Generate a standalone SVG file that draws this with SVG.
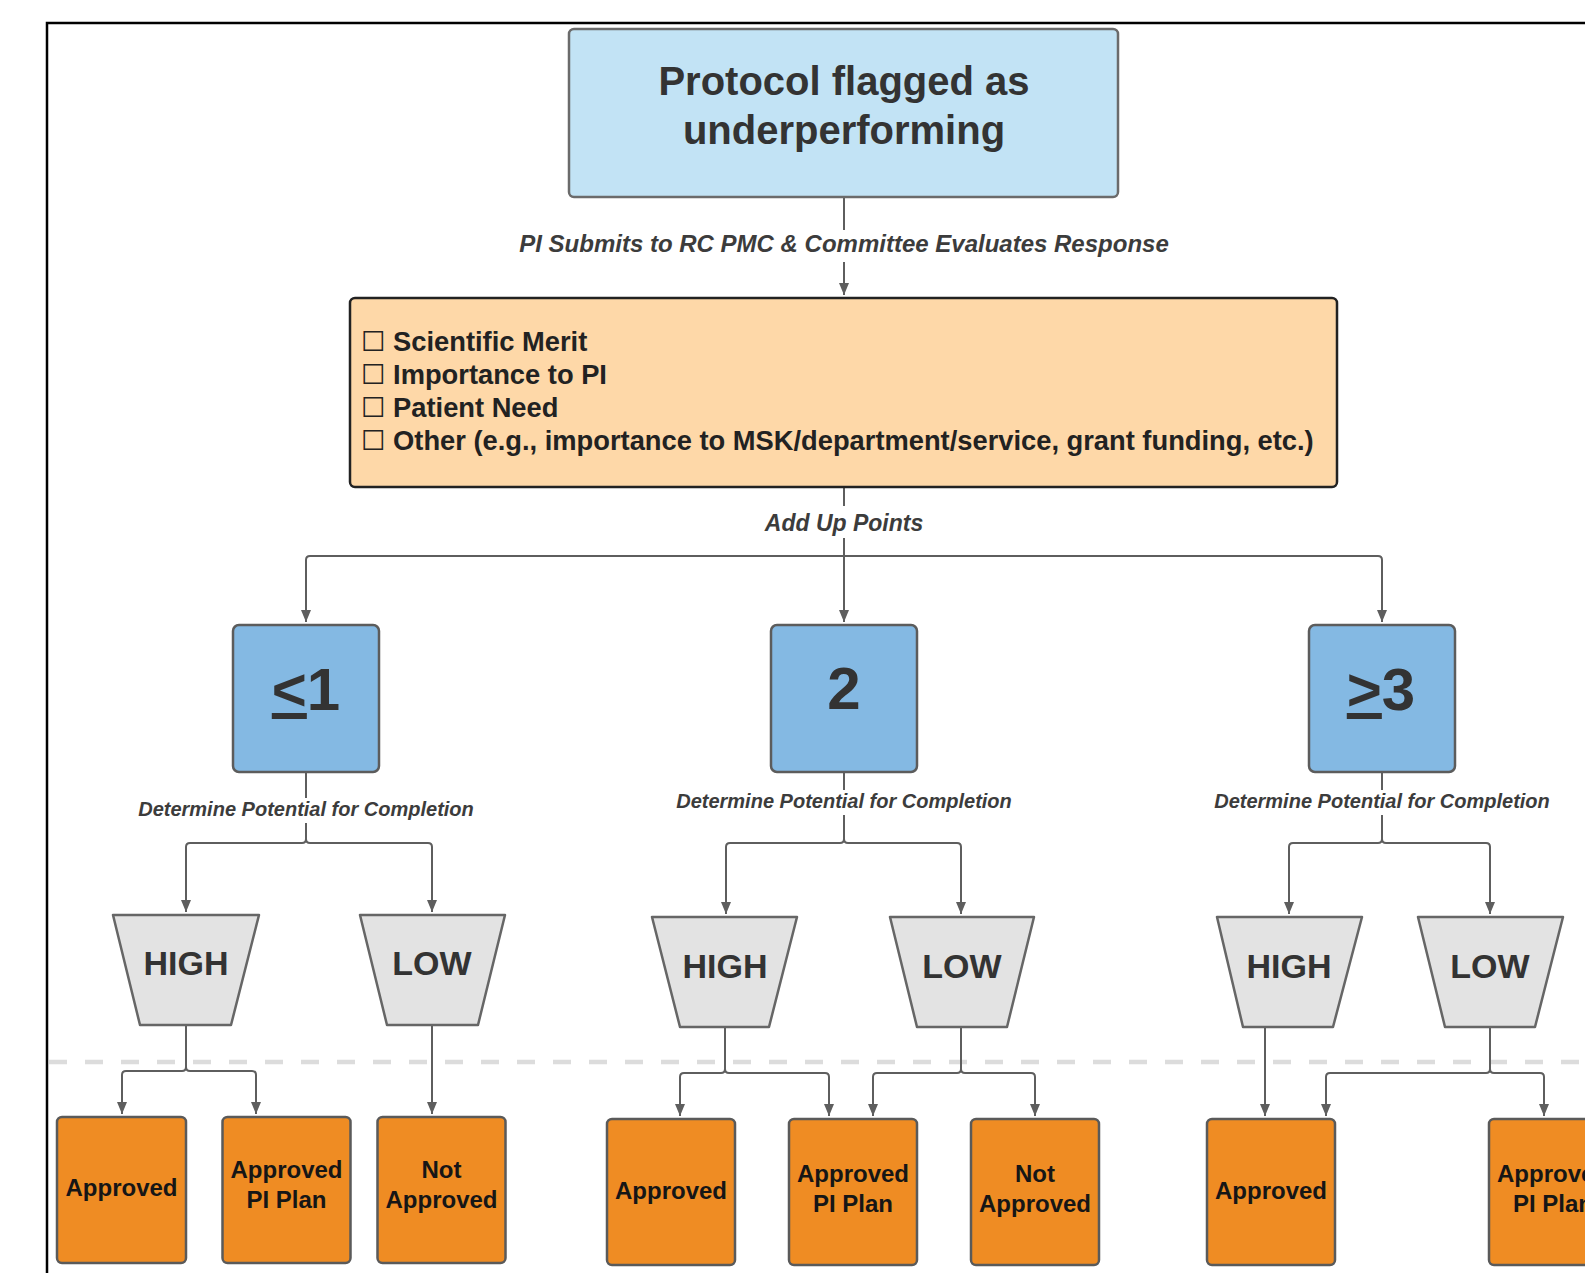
<svg xmlns="http://www.w3.org/2000/svg" width="1585" height="1273" viewBox="0 0 1585 1273">
<defs>
<marker id="arr" viewBox="0 0 12 10" refX="12" refY="5" markerWidth="12" markerHeight="10" markerUnits="userSpaceOnUse" orient="auto">
<path d="M0,0 L12,5 L0,10 z" fill="#5e5e5e"/>
</marker>
<style>
text{font-family:"Liberation Sans",Arial,"DejaVu Sans",sans-serif;}
.title{font-size:40px;font-weight:bold;fill:#333;text-anchor:middle;}
.check{font-size:27.3px;font-weight:bold;fill:#222;}
.cb{font-family:"DejaVu Sans",sans-serif;font-weight:normal;}
.lbl{font-size:24px;font-weight:bold;font-style:italic;fill:#3c3c3c;text-anchor:middle;}
.lbl2{font-size:20px;font-weight:bold;font-style:italic;fill:#3c3c3c;text-anchor:middle;}
.num{font-size:60px;font-weight:bold;fill:#333;text-anchor:middle;}
.hl{font-size:34px;font-weight:bold;fill:#333;text-anchor:middle;}
.res{font-size:24px;font-weight:bold;fill:#161616;text-anchor:middle;}
.line{fill:none;stroke:#5e5e5e;stroke-width:2;}
.arrow{marker-end:url(#arr);}
.bg{fill:#fff;}
.blue{fill:#84b9e3;stroke:#5c5c5c;stroke-width:2.5;}
.trap{fill:#e3e3e3;stroke:#666;stroke-width:2.5;stroke-linejoin:round;}
.orange{fill:#ef8c23;stroke:#5a5a5a;stroke-width:2.5;}
</style>
</defs>
<rect width="1585" height="1273" fill="#fff"/>
<rect x="47" y="23" width="1600" height="1300" fill="none" stroke="#000" stroke-width="2.5"/>
<line x1="49" y1="1062" x2="1585" y2="1062" stroke="#dcdcdc" stroke-width="4.5" stroke-dasharray="18 18"/>

<g id="connectors">
<path class="line arrow" d="M844,197 V295"/>
<rect class="bg" x="505" y="230" width="678" height="32"/>
<text class="lbl" x="844" y="252">PI Submits to RC PMC &amp; Committee Evaluates Response</text>

<path class="line arrow" d="M844,487 V622"/>
<path class="line arrow" d="M844,556 H310 Q306,556 306,560 V622"/>
<path class="line arrow" d="M844,556 H1378 Q1382,556 1382,560 V622"/>
<rect class="bg" x="752" y="506" width="184" height="32"/>
<text class="lbl" x="844" y="531" style="font-size:23px">Add Up Points</text>

<path class="line arrow" d="M306,772 V839 Q306,843 302,843 H190 Q186,843 186,847 V912"/>
<path class="line arrow" d="M306,839 Q306,843 310,843 H428 Q432,843 432,847 V912"/>
<rect class="bg" x="132" y="798" width="348" height="25"/>
<text class="lbl2" x="306" y="816">Determine Potential for Completion</text>

<path class="line arrow" d="M844,772 V839 Q844,843 840,843 H730 Q726,843 726,847 V914"/>
<path class="line arrow" d="M844,839 Q844,843 848,843 H957 Q961,843 961,847 V914"/>
<rect class="bg" x="670" y="790" width="348" height="25"/>
<text class="lbl2" x="844" y="808">Determine Potential for Completion</text>

<path class="line arrow" d="M1382,772 V839 Q1382,843 1378,843 H1293 Q1289,843 1289,847 V914"/>
<path class="line arrow" d="M1382,839 Q1382,843 1386,843 H1486 Q1490,843 1490,847 V914"/>
<rect class="bg" x="1208" y="790" width="348" height="25"/>
<text class="lbl2" x="1382" y="808">Determine Potential for Completion</text>

<path class="line arrow" d="M186,1025 V1067 Q186,1071 182,1071 H126 Q122,1071 122,1075 V1114"/>
<path class="line arrow" d="M186,1067 Q186,1071 190,1071 H252 Q256,1071 256,1075 V1114"/>
<path class="line arrow" d="M432,1025 V1114"/>

<path class="line arrow" d="M725,1027 V1069 Q725,1073 721,1073 H684 Q680,1073 680,1077 V1116"/>
<path class="line arrow" d="M725,1069 Q725,1073 729,1073 H825 Q829,1073 829,1077 V1116"/>
<path class="line arrow" d="M961,1027 V1069 Q961,1073 957,1073 H877 Q873,1073 873,1077 V1116"/>
<path class="line arrow" d="M961,1069 Q961,1073 965,1073 H1031 Q1035,1073 1035,1077 V1116"/>

<path class="line arrow" d="M1265,1027 V1116"/>
<path class="line arrow" d="M1490,1027 V1069 Q1490,1073 1486,1073 H1330 Q1326,1073 1326,1077 V1116"/>
<path class="line arrow" d="M1490,1069 Q1490,1073 1494,1073 H1540 Q1544,1073 1544,1077 V1116"/>
</g>

<g id="node-top">
<rect x="569" y="29" width="549" height="168" rx="5" fill="#c2e3f5" stroke="#6b6b6b" stroke-width="2.5"/>
<text class="title" x="844" y="95">Protocol flagged as</text>
<text class="title" x="844" y="144">underperforming</text>
</g>

<g id="node-criteria">
<rect x="350" y="298" width="987" height="189" rx="5" fill="#fed8a8" stroke="#222" stroke-width="2.5"/>
<text class="check" x="361" y="351"><tspan class="cb">☐</tspan> Scientific Merit</text>
<text class="check" x="361" y="384"><tspan class="cb">☐</tspan> Importance to PI</text>
<text class="check" x="361" y="417"><tspan class="cb">☐</tspan> Patient Need</text>
<text class="check" x="361" y="450"><tspan class="cb">☐</tspan> Other (e.g., importance to MSK/department/service, grant funding, etc.)</text>
</g>

<g id="node-le1">
<rect class="blue" x="233" y="625" width="146" height="147" rx="6"/>
<text class="num" x="306" y="710"><tspan text-decoration="underline">&lt;</tspan>1</text>
</g>
<g id="node-2">
<rect class="blue" x="771" y="625" width="146" height="147" rx="6"/>
<text class="num" x="844" y="709">2</text>
</g>
<g id="node-ge3">
<rect class="blue" x="1309" y="625" width="146" height="147" rx="6"/>
<text class="num" x="1381" y="710"><tspan text-decoration="underline">&gt;</tspan>3</text>
</g>

<g id="node-high1">
<path class="trap" d="M113,915 H259 L231,1025 H140 Z"/>
<text class="hl" x="186" y="975">HIGH</text>
</g>
<g id="node-low1">
<path class="trap" d="M360,915 H505 L478,1025 H387 Z"/>
<text class="hl" x="432" y="975">LOW</text>
</g>
<g id="node-high2">
<path class="trap" d="M652,917 H797 L769,1027 H680 Z"/>
<text class="hl" x="725" y="978">HIGH</text>
</g>
<g id="node-low2">
<path class="trap" d="M890,917 H1034 L1007,1027 H917 Z"/>
<text class="hl" x="962" y="978">LOW</text>
</g>
<g id="node-high3">
<path class="trap" d="M1217,917 H1362 L1333,1027 H1243 Z"/>
<text class="hl" x="1289" y="978">HIGH</text>
</g>
<g id="node-low3">
<path class="trap" d="M1418,917 H1563 L1535,1027 H1445 Z"/>
<text class="hl" x="1490" y="978">LOW</text>
</g>

<g id="node-approved1">
<rect class="orange" x="57" y="1117" width="129" height="146" rx="5"/>
<text class="res" x="121.5" y="1196">Approved</text>
</g>
<g id="node-piplan1">
<rect class="orange" x="222.5" y="1117" width="128" height="146" rx="5"/>
<text class="res" x="286.5" y="1178">Approved</text>
<text class="res" x="286.5" y="1208">PI Plan</text>
</g>
<g id="node-notapproved1">
<rect class="orange" x="377.5" y="1117" width="128" height="146" rx="5"/>
<text class="res" x="441.5" y="1178">Not</text>
<text class="res" x="441.5" y="1208">Approved</text>
</g>

<g id="node-approved2">
<rect class="orange" x="607" y="1119" width="128" height="146" rx="5"/>
<text class="res" x="671" y="1199">Approved</text>
</g>
<g id="node-piplan2">
<rect class="orange" x="789" y="1119" width="128" height="146" rx="5"/>
<text class="res" x="853" y="1182">Approved</text>
<text class="res" x="853" y="1212">PI Plan</text>
</g>
<g id="node-notapproved2">
<rect class="orange" x="971" y="1119" width="128" height="146" rx="5"/>
<text class="res" x="1035" y="1182">Not</text>
<text class="res" x="1035" y="1212">Approved</text>
</g>

<g id="node-approved3">
<rect class="orange" x="1207" y="1119" width="128" height="146" rx="5"/>
<text class="res" x="1271" y="1199">Approved</text>
</g>
<g id="node-piplan3">
<rect class="orange" x="1489" y="1119" width="128" height="146" rx="5"/>
<text class="res" x="1553" y="1182">Approved</text>
<text class="res" x="1553" y="1212">PI Plan</text>
</g>
</svg>
